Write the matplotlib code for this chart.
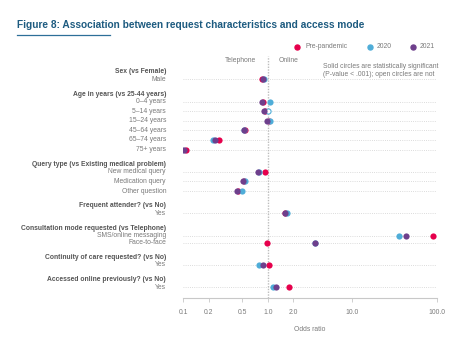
import matplotlib
matplotlib.use("Agg")
import matplotlib.pyplot as plt
import numpy as np

plt.rcParams["font.family"] = ["Liberation Sans", "DejaVu Sans"]

# group headings and the rows under each
group_titles = [
    "Sex (vs Female)",
    "Age in years (vs 25-44 years)",
    "Query type (vs Existing medical problem)",
    "Frequent attender? (vs No)",
    "Consultation mode requested (vs Telephone)",
    "Continuity of care requested? (vs No)",
    "Accessed online previously? (vs No)",
]
group_rows = [
    ["Male"],
    ["0–4 years", "5–14 years", "15–24 years", "45–64 years", "65–74 years", "75+ years"],
    ["New medical query", "Medication query", "Other question"],
    ["Yes"],
    ["SMS/online messaging", "Face-to-face"],
    ["Yes"],
    ["Yes"],
]

# odds ratios, one per row in order
or_pre = [0.86, 0.88, 0.93, 1.03, 0.54, 0.267, 0.107,
          0.93, 0.52, 0.45, 1.62, 90.0, 0.97, 1.045, 1.8]
or_2020 = [0.91, 1.05, 1.02, 1.07, 0.53, 0.223, 0.096,
           0.78, 0.54, 0.496, 1.68, 35.6, 3.6, 0.795, 1.15]
or_2021 = [0.88, 0.86, 0.90, 0.97, 0.52, 0.237, 0.101,
           0.76, 0.505, 0.43, 1.60, 44.0, 3.66, 0.87, 1.25]
# rows whose 2020 estimate is not significant (open circle)
open_2020 = ["5–14 years"]

series_names = ["Pre-pandemic", "2020", "2021"]
series_colors = ["#e6004c", "#4fadd8", "#6e3f8c"]

xticks = [0.1, 0.2, 0.5, 1.0, 2.0, 10.0, 100.0]

W, H = 475, 338
fig = plt.figure(figsize=(W / 100, H / 100), dpi=100)

# vertical layout in pixel units from the top of the figure
row_step = 9.6
tight_step = 7.0
group_gap = 22.3
head_off = 7.4
y_top, y_bot = 56.0, 297.7

row_y, row_lab, head_y = [], [], []
y = 79.3
for gi, rows in enumerate(group_rows):
    if gi > 0:
        y += group_gap
    head_y.append(y - head_off)
    step = tight_step if len(rows) == 2 else row_step
    for ri, lab in enumerate(rows):
        if ri > 0:
            y += step
        row_y.append(y)
        row_lab.append(lab)
row_y = np.array(row_y)

ax_l, ax_r = 183.3, 436.6
ax = fig.add_axes([ax_l / W, 1 - y_bot / H, (ax_r - ax_l) / W, (y_bot - y_top) / H])
ax.set_xscale("log")
ax.set_xlim(0.1, 100)
ax.set_ylim(y_bot, y_top)

grey = "#c8c8c8"
txt = "#7a7a7a"
fs = 4.9
for yy in row_y:
    ax.plot([0.1, 100], [yy, yy], ls=(0, (1, 1.6)), lw=0.6, color="#d0d0d0", zorder=1)
ax.axvline(1.0, ls=(0, (1, 1)), lw=1.0, color="#bdbdbd", zorder=1)

for name, vals, col in zip(series_names, [or_pre, or_2020, or_2021], series_colors):
    vals = np.array(vals)
    is_open = np.array([name == "2020" and lab in open_2020 for lab in row_lab])
    ax.scatter(vals[~is_open], row_y[~is_open], s=20, color=col, lw=0, zorder=3)
    if is_open.any():
        ax.scatter(vals[is_open], row_y[is_open], s=14, facecolor="white",
                   edgecolor=col, lw=0.8, zorder=3)

for sp in ["top", "right", "left"]:
    ax.spines[sp].set_visible(False)
ax.spines["bottom"].set_color(grey)
ax.spines["bottom"].set_linewidth(0.8)
ax.set_yticks([])
ax.set_xticks(xticks)
ax.set_xticklabels([f"{t:.1f}" for t in xticks])
ax.xaxis.set_minor_locator(matplotlib.ticker.NullLocator())
ax.tick_params(axis="x", length=3, width=0.6, color=grey, labelsize=fs,
               labelcolor=txt, pad=5)
ax.set_xlabel("Odds ratio", fontsize=fs, color=txt, labelpad=7)
ax.patch.set_alpha(0)

# row and heading labels, right-aligned left of the plot
lab_x = 166 / W
for yy, lab in zip(row_y, row_lab):
    fig.text(lab_x, 1 - yy / H, lab, ha="right", va="center", fontsize=fs, color=txt)
for yy, t in zip(head_y, group_titles):
    fig.text(lab_x, 1 - yy / H, t, ha="right", va="center", fontsize=fs,
             color="#555555", fontweight="bold")

# title with rule underneath
fig.text(17 / W, 1 - 25 / H, "Figure 8: Association between request characteristics and access mode",
         ha="left", va="center", fontsize=7.3, fontweight="bold", color="#1d5b80")
fig.add_artist(plt.Line2D([17 / W, 110 / W], [1 - 35 / H, 1 - 35 / H], color="#2d6f98", lw=0.9))

# legend
leg_y = 1 - 47 / H
for (mx, tx), name, col in zip([(297, 306), (370, 377), (413, 420)], series_names, series_colors):
    fig.add_artist(plt.Line2D([mx / W], [leg_y], marker="o", ms=3.6, color=col, lw=0))
    fig.text(tx / W, leg_y, name, ha="left", va="center", fontsize=fs, color=txt)

fig.text(256.5 / W, 1 - 60 / H, "Telephone", ha="right", va="center", fontsize=fs, color=txt)
fig.text(278.5 / W, 1 - 60 / H, "Online", ha="left", va="center", fontsize=fs, color=txt)
fig.text(323 / W, 1 - 70.5 / H, "Solid circles are statistically significant\n(P-value < .001); open circles are not",
         ha="left", va="center", fontsize=fs, color=txt, linespacing=1.25)

fig.savefig("out.png", dpi=100, facecolor="white")
